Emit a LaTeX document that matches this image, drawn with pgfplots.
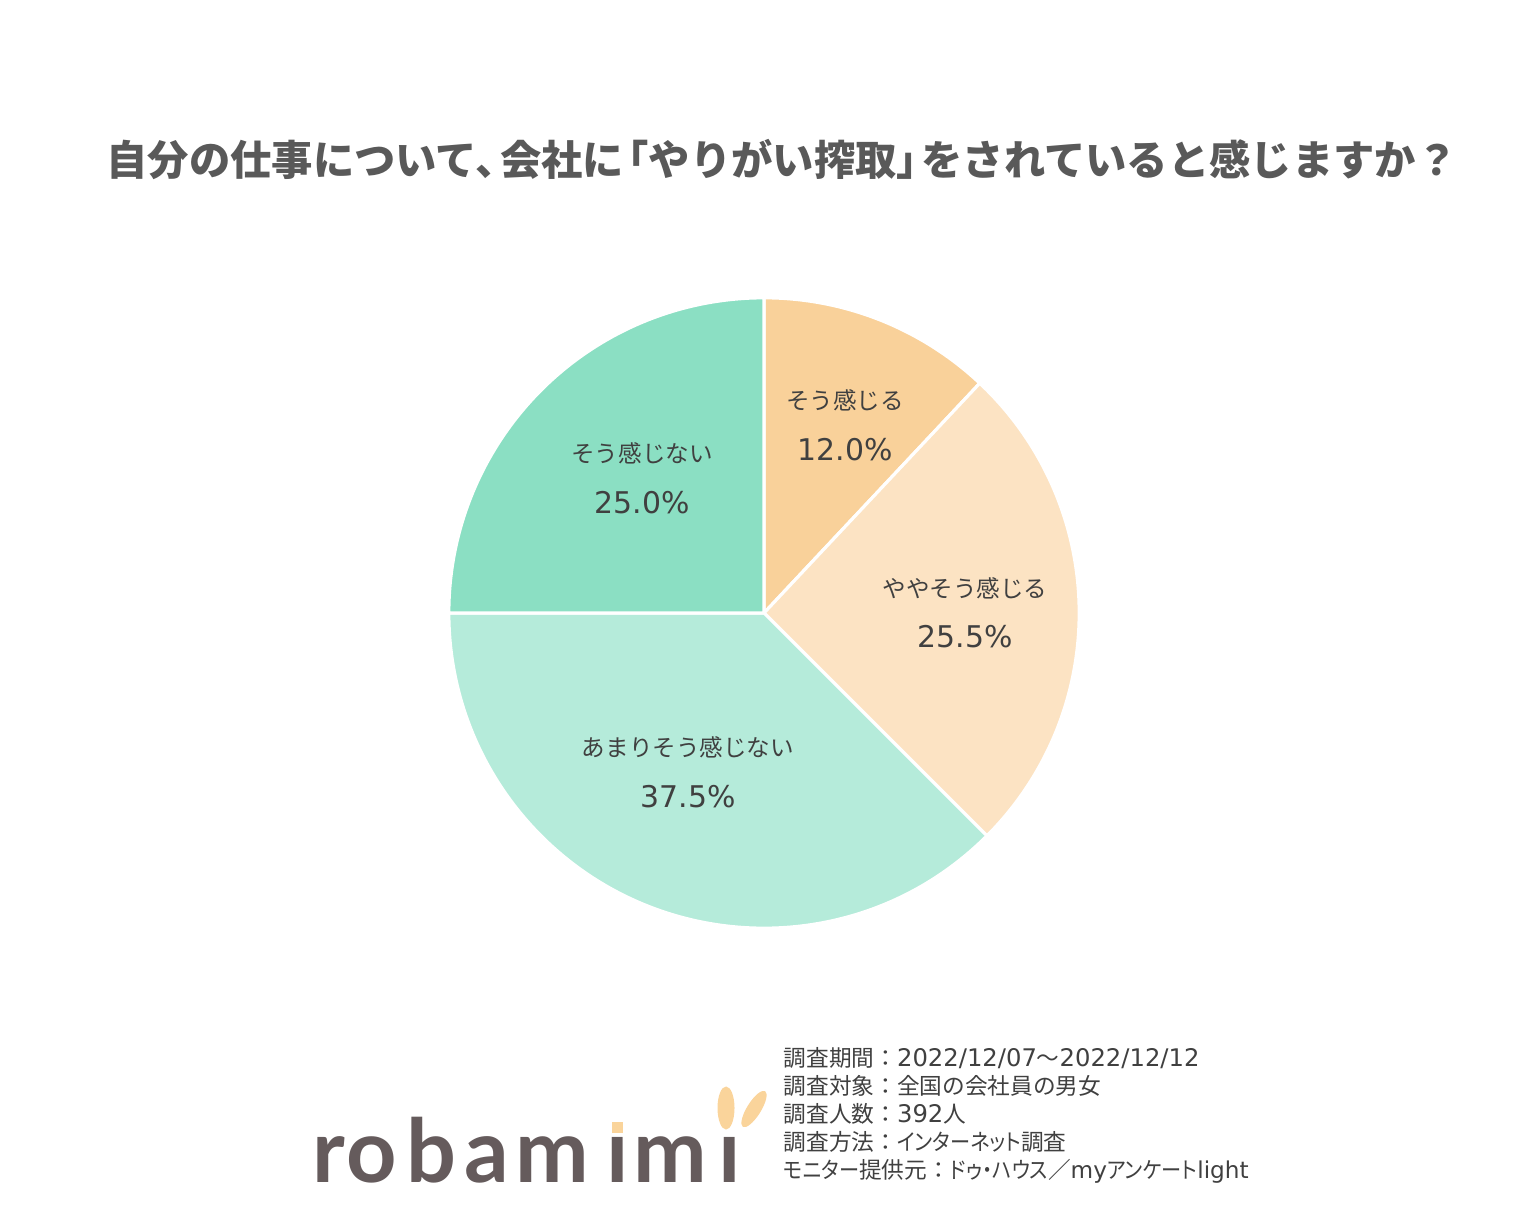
\documentclass[border=0pt]{standalone}
\usepackage{fontspec}
\usepackage{pgfplots}
\usepackage{pgfplotstable}
\pgfplotsset{compat=1.18}
\setmainfont{DejaVu Sans}
\newfontfamily\jp{Noto Sans CJK JP}
\newfontfamily\jpk[RawFeature=+palt, FakeStretch=0.89]{Noto Sans CJK JP}
\newfontfamily\logofont{Lato}

\definecolor{cA}{HTML}{F9D19A}
\definecolor{cB}{HTML}{FCE3C3}
\definecolor{cC}{HTML}{B5EBDA}
\definecolor{cD}{HTML}{8BDFC3}
\definecolor{titlegray}{HTML}{595959}
\definecolor{txt}{HTML}{404040}
\definecolor{logo}{HTML}{655B5C}
\definecolor{ear}{HTML}{FAD49B}

% share in percent
\pgfplotstableread{
share
12.0
25.5
37.5
25.0
}\piedata

\pgfplotstablegetelem{0}{share}\of\piedata \let\sA\pgfplotsretval
\pgfplotstablegetelem{1}{share}\of\piedata \let\sB\pgfplotsretval
\pgfplotstablegetelem{2}{share}\of\piedata \let\sC\pgfplotsretval
\pgfplotstablegetelem{3}{share}\of\piedata \let\sD\pgfplotsretval
\pgfmathsetmacro\aA{90}
\pgfmathsetmacro\aB{\aA-3.6*\sA}
\pgfmathsetmacro\aC{\aB-3.6*\sB}
\pgfmathsetmacro\aD{\aC-3.6*\sC}
\pgfmathsetmacro\aE{\aD-3.6*\sD}

\newcommand\pct[1]{\pgfmathprintnumber[fixed,fixed zerofill,precision=1,assume math mode=true]{#1}\%}
\newcommand\lab{\jp\fontsize{6.7pt}{8pt}\selectfont}
\newcommand\num{\fontsize{8.5pt}{10pt}\selectfont}
% footer fonts: kanji, kana, latin
\newcommand\fj{\jp\fontsize{6.45pt}{8pt}\selectfont}
\newcommand\fk{\jpk\fontsize{6.45pt}{8pt}\selectfont}
\newcommand\fl{\rmfamily\fontsize{6.9pt}{8pt}\selectfont}

\begin{document}
\begin{tikzpicture}
\begin{axis}[
    x=0.01cm, y=0.01cm,
    xmin=0, xmax=1536, ymin=0, ymax=1204,
    hide axis, clip=false,
]
\path (axis cs:0,0) rectangle (axis cs:1536,1204);

% pie slices
\filldraw[fill=cA, draw=white, line width=0.9pt, line join=round]
    (axis cs:764,591) -- ++(\aA:3.15cm) arc[start angle=\aA, end angle=\aB, radius=3.15cm] -- cycle;
\filldraw[fill=cB, draw=white, line width=0.9pt, line join=round]
    (axis cs:764,591) -- ++(\aB:3.15cm) arc[start angle=\aB, end angle=\aC, radius=3.15cm] -- cycle;
\filldraw[fill=cC, draw=white, line width=0.9pt, line join=round]
    (axis cs:764,591) -- ++(\aC:3.15cm) arc[start angle=\aC, end angle=\aD, radius=3.15cm] -- cycle;
\filldraw[fill=cD, draw=white, line width=0.9pt, line join=round]
    (axis cs:764,591) -- ++(\aD:3.15cm) arc[start angle=\aD, end angle=\aE, radius=3.15cm] -- cycle;

% slice labels
\node[txt, inner sep=0] at (axis cs:845,804) {\lab そう感じる};
\node[txt, inner sep=0] at (axis cs:845,754) {\num\pct{\sA}};
\node[txt, inner sep=0] at (axis cs:965,616) {\lab ややそう感じる};
\node[txt, inner sep=0] at (axis cs:965,567) {\num\pct{\sB}};
\node[txt, inner sep=0] at (axis cs:688,457) {\lab あまりそう感じない};
\node[txt, inner sep=0] at (axis cs:688,407) {\num\pct{\sC}};
\node[txt, inner sep=0] at (axis cs:642,751) {\lab そう感じない};
\node[txt, inner sep=0] at (axis cs:642,701) {\num\pct{\sD}};

% title
\node[titlegray, inner sep=0] at (axis cs:782,1044)
    {\jp\bfseries\fontsize{11.75pt}{14pt}\selectfont 自分の仕事について、\hspace{-0.4em}会社に\hspace{-0.4em}「やりがい搾取」\hspace{-0.4em}をされていると感じますか？};

% footer notes
\begin{scope}[every node/.style={txt, inner sep=0, anchor=base west}]
\node at (axis cs:783,138) {{\fj 調査期間：}{\fl 2022/12/07}{\fj ～}{\fl 2022/12/12}};
\node at (axis cs:783,110) {{\fj 調査対象：全国の会社員の男女}};
\node at (axis cs:783,82) {{\fj 調査人数：}{\fl 392}{\fj 人}};
\node at (axis cs:783,54) {{\fj 調査方法：}{\fk インターネット}{\fj 調査}};
\node at (axis cs:783,26) {{\fk モニター}{\fj 提供元：}{\fk ドゥ・ハウス}{\fj ／}{\fl\fontsize{6.6pt}{8pt}\selectfont my}{\fk アンケート}{\fl\fontsize{6.6pt}{8pt}\selectfont light}};
\end{scope}

% logo
\begin{scope}[every node/.style={logo, inner sep=0, anchor=base, font=\logofont\bfseries\fontsize{25pt}{30pt}\selectfont}]
\node at (axis cs:329,22) {r};
\node at (axis cs:371.5,22) {o};
\node at (axis cs:431.5,22) {b};
\node at (axis cs:487,22) {a};
\node at (axis cs:552.5,22) {m};
\node at (axis cs:617.5,22) {ı};
\node at (axis cs:670,22) {m};
\node at (axis cs:730,22) {ı};
\end{scope}
\fill[ear] (axis cs:612,71) rectangle (axis cs:623,82);
\fill[ear] (axis cs:726,96) ellipse[x radius=0.085cm, y radius=0.215cm];
\fill[ear, rotate around={58:(axis cs:754,95)}] (axis cs:754,95) ellipse[x radius=0.21cm, y radius=0.07cm];
\end{axis}
\end{tikzpicture}
\end{document}
